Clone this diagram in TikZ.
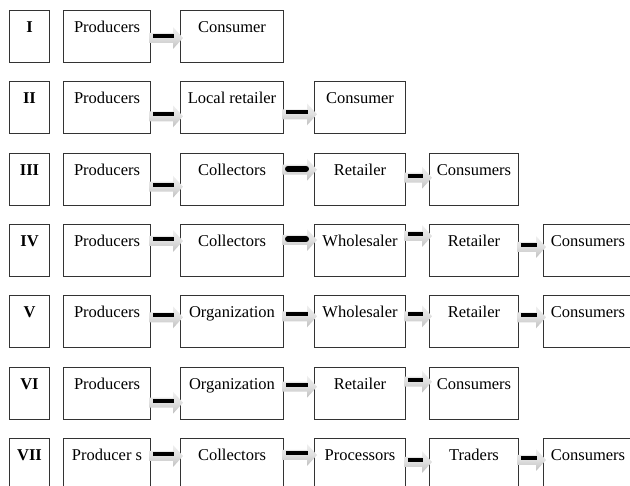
\documentclass[tikz,border=0pt]{standalone}
\usepackage{fontspec}
\setmainfont{Liberation Serif}
\usetikzlibrary{calc}
\newcommand\linkarr[3]{%
  \path[top color=gray!12,bottom color=gray!50,middle color=gray!25] let \p1=($(#1.north east)+(-2,#3)$), \p2=($(#2.north west)+(3,#3)$) in
    (\x1,\y1+5pt) -- (\x2-10pt,\y1+5pt) -- (\x2-10pt,\y1+11pt) -- (\x2,\y1) -- (\x2-10pt,\y1-11pt) -- (\x2-10pt,\y1-5pt) -- (\x1,\y1-5pt) -- cycle;
  \draw[line width=4pt] let \p1=($(#1.north east)+(-2,#3)$), \p2=($(#2.north west)+(3,#3)$) in
    (\x1+4pt,\y1+2pt) -- (\x2-9pt,\y1+2pt);}
\newcommand\linkarrthick[3]{%
  \path[top color=gray!12,bottom color=gray!50,middle color=gray!25] let \p1=($(#1.north east)+(-2,#3)$), \p2=($(#2.north west)+(3,#3)$) in
    (\x1,\y1+5pt) -- (\x2-10pt,\y1+5pt) -- (\x2-10pt,\y1+11pt) -- (\x2,\y1) -- (\x2-10pt,\y1-11pt) -- (\x2-10pt,\y1-5pt) -- (\x1,\y1-5pt) -- cycle;
  \draw[line width=6pt,line cap=round] let \p1=($(#1.north east)+(-2,#3)$), \p2=($(#2.north west)+(3,#3)$) in
    (\x1+6pt,\y1+1pt) -- (\x2-11pt,\y1+1pt);}
\begin{document}
\begin{tikzpicture}[x=1pt,y=-1pt,
  box/.style={draw=black!80, line width=1pt, anchor=north west, inner xsep=0pt, inner ysep=0pt,
    text height=22pt, text depth=30pt, font=\fontsize{16.5}{18}\selectfont},
  numbox/.style={box, minimum width=40pt, font=\fontsize{16.5}{18}\selectfont\bfseries},
  prodbox/.style={box, minimum width=87pt},
  colB/.style={box, minimum width=103pt},
  colC/.style={box, minimum width=91pt},
  colD/.style={box, minimum width=89pt},
  colE/.style={box, minimum width=89pt}]
\useasboundingbox (0,0) rectangle (630,486);
\clip (0,0) rectangle (630,486);
% Row I
\node[numbox] (n1) at (9,10) {I};
\node[prodbox] (p1) at (63,10) {Producers};
\node[colB] (b1) at (180,10) {Consumer};
% Row II
\node[numbox] (n2) at (9,81.3) {II};
\node[prodbox] (p2) at (63,81.3) {Producers};
\node[colB] (b2) at (180,81.3) {Local retailer};
\node[colC] (c2) at (314,81.3) {Consumer};
% Row III
\node[numbox] (n3) at (9,152.7) {III};
\node[prodbox] (p3) at (63,152.7) {Producers};
\node[colB] (b3) at (180,152.7) {Collectors};
\node[colC] (c3) at (314,152.7) {Retailer};
\node[colD] (d3) at (429,152.7) {Consumers};
% Row IV
\node[numbox] (n4) at (9,224) {IV};
\node[prodbox] (p4) at (63,224) {Producers};
\node[colB] (b4) at (180,224) {Collectors};
\node[colC] (c4) at (314,224) {Wholesaler};
\node[colD] (d4) at (429,224) {Retailer};
\node[colE] (e4) at (543,224) {Consumers};
% Row V
\node[numbox] (n5) at (9,295.3) {V};
\node[prodbox] (p5) at (63,295.3) {Producers};
\node[colB] (b5) at (180,295.3) {Organization};
\node[colC] (c5) at (314,295.3) {Wholesaler};
\node[colD] (d5) at (429,295.3) {Retailer};
\node[colE] (e5) at (543,295.3) {Consumers};
% Row VI
\node[numbox] (n6) at (9,366.7) {VI};
\node[prodbox] (p6) at (63,366.7) {Producers};
\node[colB] (b6) at (180,366.7) {Organization};
\node[colC] (c6) at (314,366.7) {Retailer};
\node[colD] (d6) at (429,366.7) {Consumers};
% Row VII
\node[numbox] (n7) at (9,438) {VII};
\node[prodbox] (p7) at (63,438) {Producer s};
\node[colB] (b7) at (180,438) {Collectors};
\node[colC] (c7) at (314,438) {Processors};
\node[colD] (d7) at (429,438) {Traders};
\node[colE] (e7) at (543,438) {Consumers};
% arrows
\linkarr{p1}{b1}{28}
\linkarr{p2}{b2}{35}
\linkarr{b2}{c2}{33}
\linkarr{p3}{b3}{34}
\linkarrthick{b3}{c3}{17}
\linkarr{c3}{d3}{25}
\linkarr{p4}{b4}{17}
\linkarrthick{b4}{c4}{16}
\linkarr{c4}{d4}{12}
\linkarr{d4}{e4}{23}
\linkarr{p5}{b5}{22}
\linkarr{b5}{c5}{21}
\linkarr{c5}{d5}{21}
\linkarr{d5}{e5}{22}
\linkarr{p6}{b6}{36}
\linkarr{b6}{c6}{20}
\linkarr{c6}{d6}{15}
\linkarr{p7}{b7}{18}
\linkarr{b7}{c7}{17}
\linkarr{c7}{d7}{24}
\linkarr{d7}{e7}{22}
\end{tikzpicture}
\end{document}
